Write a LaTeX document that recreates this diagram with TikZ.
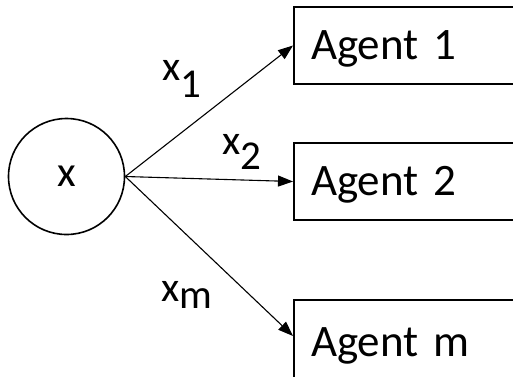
\documentclass[tikz,border=0pt]{standalone}
\usepackage{fontspec}
\setmainfont{Carlito}
\usetikzlibrary{arrows.meta}
\newcommand{\subsc}[2]{\raisebox{-#1pt}{\fontsize{41}{41}\selectfont #2}}
\begin{document}
\begin{tikzpicture}[x=1pt,y=-1pt,
  every node/.style={font=\fontsize{45}{45}\selectfont},
  agentbox/.style={draw, line width=2pt, anchor=north west, text width=210pt, inner xsep=17pt, inner ysep=0pt, align=left, text height=32pt, text depth=4pt},
  srcnode/.style={draw, circle, line width=1.6pt, minimum size=116pt, inner sep=0pt, font=\fontsize{43}{43}\selectfont},
  conn/.style={line width=1.1pt, -{Triangle[length=15pt,width=11pt]}},
  lab/.style={anchor=base west, inner sep=0pt, font=\fontsize{42}{42}\selectfont}
]
\useasboundingbox (0,0) rectangle (513,376);
\clip (0,0) rectangle (513,376);
\node[srcnode] (c) at (66.5,176.5) {x};
\node[agentbox, minimum height=77pt] (a1) at (293,6) {Agent 1};
\node[agentbox, minimum height=77pt] (a2) at (293,142) {Agent 2};
\node[agentbox, minimum height=84pt] (am) at (293,299) {Agent m};
\draw[conn] (c.east) -- (a1.west);
\draw[conn] (c.east) -- (a2.west);
\draw[conn] (c.east) -- ([yshift=6pt]am.west);
\node[lab] (l1) at (162,80) {x\subsc{17}{1}};
\node[lab] (l2) at (222,154) {x\subsc{15}{2}};
\node[lab] (lm) at (161,301.5) {x\subsc{6.5}{m}};
\end{tikzpicture}
\end{document}
